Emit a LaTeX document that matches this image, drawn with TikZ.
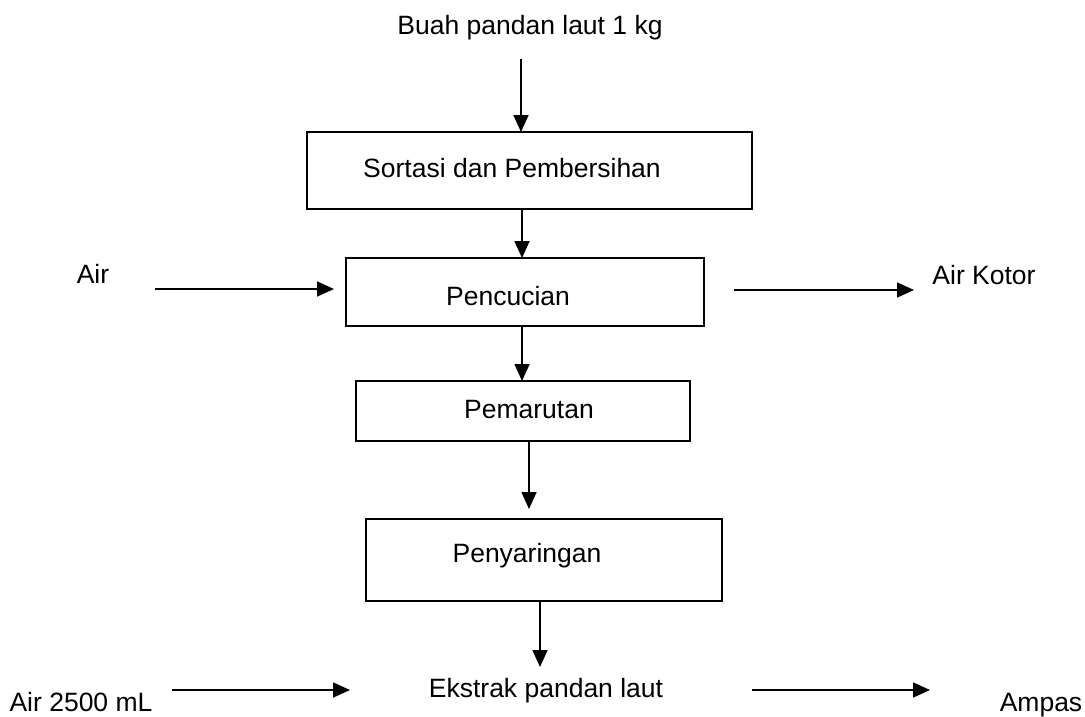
\documentclass[tikz,border=0pt]{standalone}
\usepackage{fontspec}
\setmainfont{Liberation Sans}
\usetikzlibrary{arrows.meta}
\begin{document}
\begin{tikzpicture}[x=1pt,y=-1pt,
  lbl/.style={anchor=base,inner sep=0pt,font=\fontsize{26.5pt}{32pt}\selectfont},
  procbox/.style={draw,line width=1.7pt,inner sep=0pt,outer sep=0pt},
  arr/.style={line width=1.7pt,-{Triangle[length=17pt,width=15pt]}}]
\useasboundingbox (0,0) rectangle (1085,717);
% boxes
\node[procbox,minimum width=445pt,minimum height=77pt] (s1) at (529.5,170.5) {};
\node[procbox,minimum width=358pt,minimum height=68pt] (s2) at (525,292) {};
\node[procbox,minimum width=334pt,minimum height=60pt] (s3) at (523,411) {};
\node[procbox,minimum width=356pt,minimum height=82pt] (s4) at (544,560) {};
% texts
\node[lbl] (buah) at (530,35) {Buah pandan laut 1 kg};
\node[lbl] (t1) at (512,177) {Sortasi dan Pembersihan};
\node[lbl] (t2) at (508,305) {Pencucian};
\node[lbl] (t3) at (529,418) {Pemarutan};
\node[lbl] (t4) at (527,562) {Penyaringan};
\node[lbl] (air) at (93,283) {Air};
\node[lbl] (kotor) at (984,284) {Air Kotor};
\node[lbl] (ekstrak) at (546,697) {Ekstrak pandan laut};
\node[lbl] (air2) at (81,711) {Air 2500 mL};
\node[lbl] (ampas) at (1041,711) {Ampas};
% coordinates
\coordinate (a1) at (521,59);
\coordinate (a2) at (522,0);
\coordinate (a4) at (529,0);
\coordinate (a4e) at (529,509);
\coordinate (a5) at (540,0);
\coordinate (a5e) at (540,667);
\coordinate (w1) at (155,289);
\coordinate (w1e) at (334,289);
\coordinate (w2) at (734,290);
\coordinate (w2e) at (914,290);
\coordinate (w3) at (172,690);
\coordinate (w3e) at (350,690);
\coordinate (w4) at (752,690);
\coordinate (w4e) at (930,690);
% arrows
\draw[arr] (a1) -- (a1 |- s1.north);
\draw[arr] (a2 |- s1.south) -- (a2 |- s2.north);
\draw[arr] (a2 |- s2.south) -- (a2 |- s3.north);
\draw[arr] (a4 |- s3.south) -- (a4e);
\draw[arr] (a5 |- s4.south) -- (a5e);
\draw[arr] (w1) -- (w1e);
\draw[arr] (w2) -- (w2e);
\draw[arr] (w3) -- (w3e);
\draw[arr] (w4) -- (w4e);
\end{tikzpicture}
\end{document}
